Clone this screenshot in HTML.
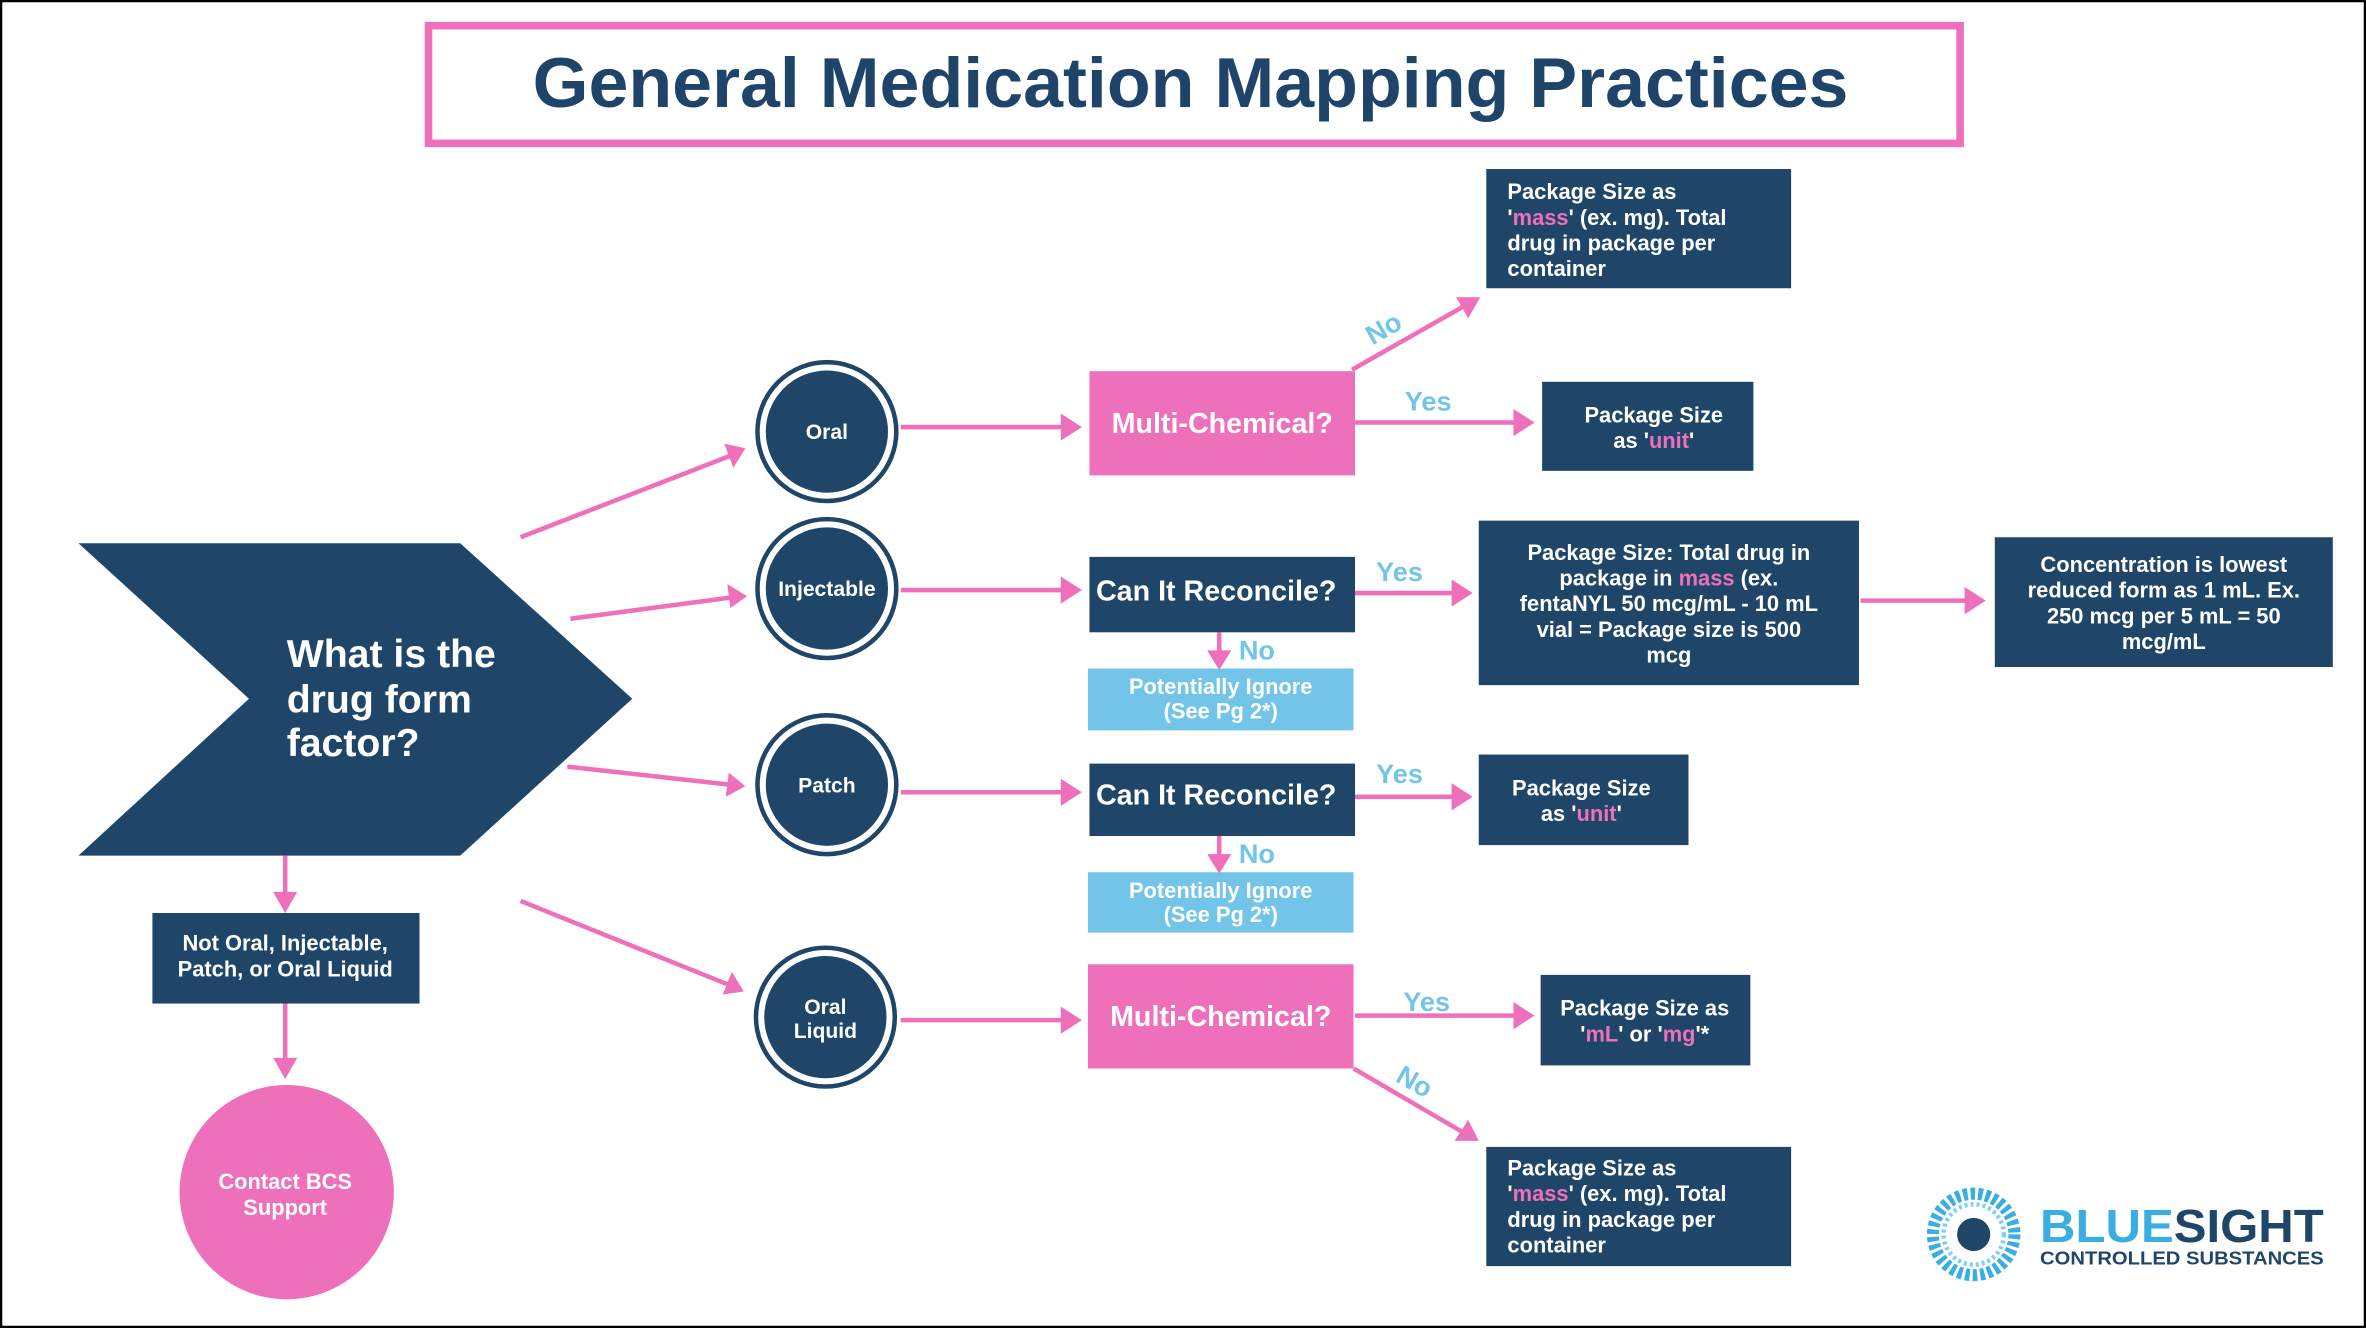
<!DOCTYPE html>
<html><head><meta charset="utf-8"><style>
html,body{margin:0;padding:0;background:#fff;}
svg{display:block;}
text{font-family:"Liberation Sans",sans-serif;font-weight:bold;}
</style></head><body>
<svg width="2366" height="1328" viewBox="0 0 1568 880" preserveAspectRatio="none" xmlns="http://www.w3.org/2000/svg">
<rect x="0.5" y="0.5" width="1567" height="879" fill="#fff" stroke="#000" stroke-width="2"/>
<rect x="284" y="17" width="1015" height="78" fill="#fff" stroke="#ee6fba" stroke-width="5"/>
<text x="353" y="71" font-size="47" fill="#1f4469" textLength="872" lengthAdjust="spacingAndGlyphs">General Medication Mapping Practices</text>

<polygon points="52,360 305,360 419,463 305,567 52,567 165,463" fill="#1f4669"/>
<g fill="#fff" font-size="26"><text x="190" y="442">What is the</text><text x="190" y="472">drug form</text><text x="190" y="501">factor?</text></g>

<g fill="#1f4669" stroke="#1f4669">
<circle cx="548" cy="286" r="46" fill="#fff" stroke-width="3"/><circle cx="548" cy="286" r="40"/>
<circle cx="548" cy="390" r="46" fill="#fff" stroke-width="3"/><circle cx="548" cy="390" r="40"/>
<circle cx="548" cy="520" r="46" fill="#fff" stroke-width="3"/><circle cx="548" cy="520" r="40"/>
<circle cx="547" cy="674" r="46" fill="#fff" stroke-width="3"/><circle cx="547" cy="674" r="40"/>
</g>
<g fill="#fff" font-size="14" text-anchor="middle">
<text x="548" y="291">Oral</text><text x="548" y="395">Injectable</text><text x="548" y="525">Patch</text>
<text x="547" y="672">Oral</text><text x="547" y="688">Liquid</text>
</g>

<g stroke="#ee6fba" stroke-width="3" fill="none">
<line x1="345" y1="356" x2="484" y2="302"/>
<line x1="378" y1="410" x2="484" y2="396"/>
<line x1="376" y1="508" x2="484" y2="520"/>
<line x1="345" y1="597" x2="484" y2="653"/>
<line x1="597" y1="283" x2="706" y2="283"/>
<line x1="597" y1="391" x2="706" y2="391"/>
<line x1="597" y1="525" x2="706" y2="525"/>
<line x1="597" y1="676" x2="706" y2="676"/>
<line x1="808" y1="419" x2="808" y2="434"/>
<line x1="808" y1="554" x2="808" y2="569"/>
<line x1="896" y1="245" x2="970" y2="203"/>
<line x1="898" y1="280" x2="1006" y2="280"/>
<line x1="898" y1="393" x2="965" y2="393"/>
<line x1="1233" y1="398" x2="1305" y2="398"/>
<line x1="898" y1="528" x2="965" y2="528"/>
<line x1="898" y1="673" x2="1006" y2="673"/>
<line x1="897" y1="708" x2="969" y2="750"/>
<line x1="189" y1="567" x2="189" y2="594"/>
<line x1="189" y1="665" x2="189" y2="704"/>
</g>
<g fill="#ee6fba">
<polygon points="494,297 480,294 486,310"/>
<polygon points="495,395 482,387 484,403"/>
<polygon points="494,521 483,512 481,528"/>
<polygon points="493,657 485,644 479,659"/>
<polygon points="717,283 703,274 703,292"/>
<polygon points="717,391 703,382 703,400"/>
<polygon points="717,525 703,516 703,534"/>
<polygon points="717,676 703,667 703,685"/>
<polygon points="808,444 800,431 816,431"/>
<polygon points="808,579 800,566 816,566"/>
<polygon points="981,197 965,197 973,211"/>
<polygon points="1017,280 1003,271 1003,289"/>
<polygon points="976,393 962,384 962,402"/>
<polygon points="1316,398 1302,389 1302,407"/>
<polygon points="976,528 962,519 962,537"/>
<polygon points="1017,673 1003,664 1003,682"/>
<polygon points="980,756 973,742 964,756"/>
<polygon points="189,605 181,591 197,591"/>
<polygon points="189,715 181,701 197,701"/>
</g>

<g fill="#72c5e8" font-size="18" font-weight="normal">
<text x="904" y="224" transform="rotate(-30 916 216)">No</text>
<text x="931" y="272">Yes</text>
<text x="912" y="385">Yes</text>
<text x="821" y="437">No</text>
<text x="912" y="519">Yes</text>
<text x="821" y="572">No</text>
<text x="930" y="670">Yes</text>
<text x="926" y="723" transform="rotate(30 938 716)">No</text>
</g>

<g fill="#ee6fba"><rect x="722" y="246" width="176" height="69"/><rect x="721" y="639" width="176" height="69"/></g>
<g fill="#1f4669">
<rect x="722" y="369" width="176" height="50"/><rect x="722" y="506" width="176" height="48"/>
<rect x="985" y="112" width="202" height="79"/><rect x="1022" y="253" width="140" height="59"/>
<rect x="980" y="345" width="252" height="109"/><rect x="1322" y="356" width="224" height="86"/>
<rect x="980" y="500" width="139" height="60"/><rect x="1021" y="646" width="139" height="60"/>
<rect x="985" y="760" width="202" height="79"/><rect x="101" y="605" width="177" height="60"/>
</g>
<g fill="#72c5e8"><rect x="721" y="443" width="176" height="41"/><rect x="721" y="578" width="176" height="40"/></g>
<circle cx="190" cy="790" r="71" fill="#ee6fba"/>

<g fill="#fff" font-size="19" text-anchor="middle">
<text x="810" y="287">Multi-Chemical?</text>
<text x="809" y="680">Multi-Chemical?</text>
<text x="806" y="398">Can It Reconcile?</text>
<text x="806" y="533">Can It Reconcile?</text>
</g>
<g fill="#fff" font-size="14.5" text-anchor="middle">
<text x="809" y="460">Potentially Ignore</text><text x="809" y="476">(See Pg 2*)</text>
<text x="809" y="595">Potentially Ignore</text><text x="809" y="611">(See Pg 2*)</text>
<text x="1096" y="280">Package Size</text><text x="1096" y="297">as '<tspan fill="#ee6fba">unit</tspan>'</text>
<text x="1106" y="371">Package Size:  Total drug in</text>
<text x="1106" y="388">package in <tspan fill="#ee6fba">mass</tspan> (ex.</text>
<text x="1106" y="405">fentaNYL 50 mcg/mL - 10 mL</text>
<text x="1106" y="422">vial = Package size  is 500</text>
<text x="1106" y="439">mcg</text>
<text x="1434" y="379">Concentration is lowest</text>
<text x="1434" y="396">reduced form as 1 mL.  Ex.</text>
<text x="1434" y="413">250 mcg per 5 mL = 50</text>
<text x="1434" y="430">mcg/mL</text>
<text x="1048" y="527">Package Size</text><text x="1048" y="544">as '<tspan fill="#ee6fba">unit</tspan>'</text>
<text x="1090" y="673">Package Size as</text><text x="1090" y="690">'<tspan fill="#ee6fba">mL</tspan>' or '<tspan fill="#ee6fba">mg</tspan>'*</text>
<text x="189" y="630">Not Oral, Injectable,</text><text x="189" y="647">Patch, or Oral Liquid</text>
<text x="189" y="788">Contact BCS</text><text x="189" y="805">Support</text>
</g>
<g fill="#fff" font-size="14.5">
<text x="999" y="132">Package Size as</text>
<text x="999" y="149">'<tspan fill="#ee6fba">mass</tspan>' (ex. mg).  Total</text>
<text x="999" y="166">drug in package per</text>
<text x="999" y="183">container</text>
<text x="999" y="779">Package Size as</text>
<text x="999" y="796">'<tspan fill="#ee6fba">mass</tspan>' (ex. mg).  Total</text>
<text x="999" y="813">drug in package per</text>
<text x="999" y="830">container</text>
</g>

<circle cx="1308" cy="818" r="27" fill="none" stroke="#3aaee0" stroke-width="8" stroke-dasharray="3 2"/>
<circle cx="1308" cy="818" r="20" fill="none" stroke="#7fd0f0" stroke-width="3" stroke-dasharray="2 2"/>
<circle cx="1308" cy="818" r="11" fill="#1f4669"/>
<text x="1352" y="823" font-size="31" fill="#3aaee0" textLength="188" lengthAdjust="spacingAndGlyphs">BLUE<tspan fill="#1f4669">SIGHT</tspan></text>
<text x="1352" y="838" font-size="12.5" fill="#1f4669" textLength="188" lengthAdjust="spacingAndGlyphs">CONTROLLED SUBSTANCES</text>
</svg>
</body></html>
